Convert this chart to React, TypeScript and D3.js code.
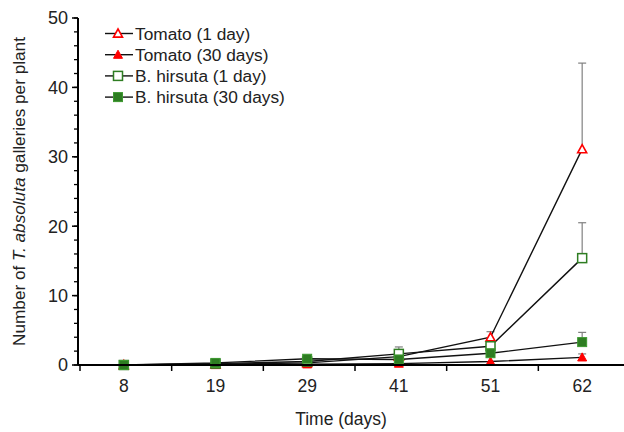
import * as d3 from 'd3';

// Sampling days (categories on the x axis)
const days = ['8', '19', '29', '41', '51', '62'];

// Mean galleries per plant
const tomato1 = [0, 0.1, 0.3, 1.2, 4.0, 31.1];
const tomato30 = [0, 0, 0.1, 0.2, 0.5, 1.1];
const hirsuta1 = [0, 0.2, 0.5, 1.6, 2.7, 15.4];
const hirsuta30 = [0, 0.3, 0.9, 0.8, 1.7, 3.3];

// Upper end of the error bars (null = none visible)
const tomato1Err = [null, null, null, 1.8, 4.8, 43.5];
const tomato30Err = [null, null, null, null, null, 1.6];
const hirsuta1Err = [null, null, null, 2.6, null, 20.5];
const hirsuta30Err = [null, null, null, null, null, 4.7];

const yTicks = [0, 10, 20, 30, 40, 50];
const yMinor = d3.range(0, 51, 2);

const seriesNames = ['Tomato (1 day)', 'Tomato (30 days)', 'B. hirsuta (1 day)', 'B. hirsuta (30 days)'];

type Marker = 'triOpen' | 'triFill' | 'sqOpen' | 'sqFill';

const series: { name: string; values: number[]; err: (number | null)[]; marker: Marker }[] = [
  { name: seriesNames[0], values: tomato1, err: tomato1Err, marker: 'triOpen' },
  { name: seriesNames[1], values: tomato30, err: tomato30Err, marker: 'triFill' },
  { name: seriesNames[2], values: hirsuta1, err: hirsuta1Err, marker: 'sqOpen' },
  { name: seriesNames[3], values: hirsuta30, err: hirsuta30Err, marker: 'sqFill' },
];

const W = 624;
const H = 432;
const margin = { top: 18, right: -4, bottom: 67, left: 78 };

function MarkerShape({ kind, cx, cy }: { kind: Marker; cx: number; cy: number }) {
  if (kind === 'triOpen' || kind === 'triFill') {
    const s = 4.5;
    const pts = `${cx},${cy - s} ${cx + s},${cy + s * 0.8} ${cx - s},${cy + s * 0.8}`;
    return kind === 'triOpen'
      ? <polygon points={pts} fill="white" stroke="#ff0000" strokeWidth={1.6} />
      : <polygon points={pts} fill="#ff0000" stroke="#ff0000" strokeWidth={1} />;
  }
  const s = 4.5;
  return kind === 'sqOpen'
    ? <rect x={cx - s} y={cy - s} width={s * 2} height={s * 2} fill="white" stroke="#2e7d22" strokeWidth={1.5} />
    : <rect x={cx - s} y={cy - s} width={s * 2} height={s * 2} fill="#2e7d22" stroke="#3d9a30" strokeWidth={1} />;
}

export default function App() {
  const x = d3.scaleBand<string>()
    .domain(days)
    .range([margin.left, W - margin.right])
    .paddingInner(0)
    .paddingOuter(0);

  const y = d3.scaleLinear()
    .domain([0, 50])
    .range([H - margin.bottom, margin.top]);

  const cx = (d: string) => (x(d) as number) + x.bandwidth() / 2;

  const line = d3.line<number>()
    .x((_, i) => cx(days[i]))
    .y(v => y(v));

  const boundaries = days.map(d => x(d) as number).concat([(x(days[days.length - 1]) as number) + x.bandwidth()]);
  const y0 = y(0);
  const font = 'Liberation Sans, Arial, sans-serif';

  return (
    <svg width={W} height={H} style={{ position: 'absolute', left: 0, top: 0 }} fontFamily={font}>
      <rect width={W} height={H} fill="white" />

      {/* error bars */}
      {series.map(s => s.err.map((e, i) => e == null ? null : (
        <g key={`${s.name}-e-${i}`} stroke="#808080" strokeWidth={1.2}>
          <line x1={cx(days[i])} x2={cx(days[i])} y1={y(s.values[i])} y2={y(e)} />
          <line x1={cx(days[i]) - 4} x2={cx(days[i]) + 4} y1={y(e)} y2={y(e)} />
        </g>
      )))}

      {/* series lines */}
      {series.map(s => (
        <path key={`${s.name}-l`} d={line(s.values) ?? ''} fill="none" stroke="#111" strokeWidth={1.4} />
      ))}

      {/* markers, drawn so the green squares sit on top like in the original */}
      {[series[1], series[0], series[2], series[3]].map(s => s.values.map((v, i) => (
        <MarkerShape key={`${s.name}-m-${i}`} kind={s.marker} cx={cx(days[i])} cy={y(v)} />
      )))}

      {/* y axis */}
      <line x1={margin.left} x2={margin.left} y1={y(50)} y2={y0} stroke="black" strokeWidth={2} />
      {yMinor.map(t => (
        <line key={`ym-${t}`} x1={margin.left - 4} x2={margin.left} y1={y(t)} y2={y(t)} stroke="black" strokeWidth={1.3} />
      ))}
      {yTicks.map(t => (
        <g key={`yt-${t}`}>
          <line x1={margin.left - 6} x2={margin.left} y1={y(t)} y2={y(t)} stroke="black" strokeWidth={1.5} />
          <text x={margin.left - 10} y={y(t)} dy="0.35em" textAnchor="end" fontSize={18} fill="#222">{t}</text>
        </g>
      ))}

      {/* x axis */}
      <line x1={margin.left} x2={W} y1={y0} y2={y0} stroke="black" strokeWidth={2} />
      {boundaries.map((b, i) => (
        <line key={`xb-${i}`} x1={b + 2} x2={b + 2} y1={y0} y2={y0 + 6} stroke="black" strokeWidth={1.5} />
      ))}
      {days.map(d => (
        <text key={`xl-${d}`} x={cx(d)} y={y0 + 27} textAnchor="middle" fontSize={17.5} fill="#222">{d}</text>
      ))}

      {/* axis titles */}
      <text x={341} y={H - 7} textAnchor="middle" fontSize={17.5} fill="#222">Time (days)</text>
      <text transform={`translate(25,${(y(50) + y0) / 2}) rotate(-90)`} textAnchor="middle" fontSize={17.2} fill="#222">
        Number of <tspan fontStyle="italic">T. absoluta</tspan> galleries per plant
      </text>

      {/* legend */}
      {series.map((s, i) => {
        const ly = 33.5 + i * 21.2;
        return (
          <g key={`lg-${s.name}`}>
            <line x1={105} x2={133} y1={ly} y2={ly} stroke="#111" strokeWidth={1.4} />
            <MarkerShape kind={s.marker} cx={118} cy={ly} />
            <text x={135} y={ly} dy="0.35em" fontSize={17.3} fill="#222">{s.name}</text>
          </g>
        );
      })}
    </svg>
  );
}
